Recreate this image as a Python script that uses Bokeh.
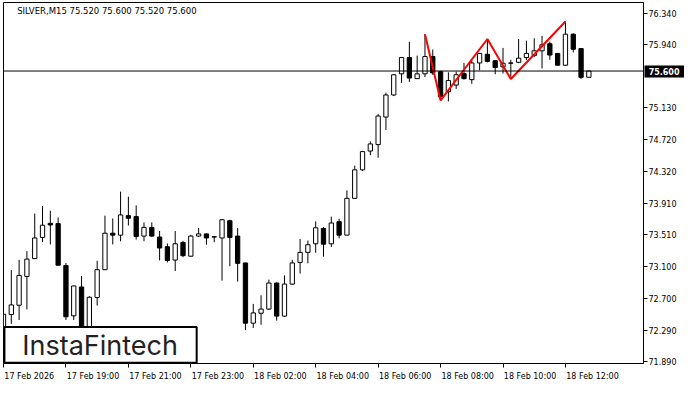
from bokeh.plotting import figure
from bokeh.models import (Range1d, FixedTicker, NumeralTickFormatter, Span, Label,
                          BoxAnnotation, ColumnDataSource, LinearAxis)
from bokeh.embed import file_html
from bokeh.resources import INLINE

# ---------------- data (SILVER, M15) ----------------
opens = [72.300, 72.490, 72.609, 72.977, 73.205, 73.475, 73.655, 73.652, 73.116, 72.474,
         72.842, 72.330, 72.708, 73.063, 73.529, 73.504, 73.753, 73.741, 73.492, 73.603,
         73.480, 73.357, 73.186, 73.410, 73.235, 73.492, 73.520, 73.484, 73.468, 73.688,
         73.492, 73.149, 72.380, 72.507, 72.560, 72.892, 72.470, 72.879, 73.156, 73.284,
         73.394, 73.590, 73.394, 73.676, 73.504, 73.974, 74.338, 74.578, 74.660, 75.012,
         75.294, 75.564, 75.772, 75.503, 75.564, 75.785, 75.592, 75.335, 75.421, 75.568,
         75.490, 75.703, 75.813, 75.731, 75.654, 75.703, 75.711, 75.772, 75.797, 75.858,
         75.948, 75.825, 75.674, 76.070, 75.886, 75.520]
highs = [72.965, 73.058, 73.189, 73.300, 73.778, 73.876, 73.815, 73.729, 73.149, 72.860,
         72.981, 72.724, 73.177, 73.753, 73.717, 74.060, 73.995, 73.884, 73.667, 73.667,
         73.557, 73.398, 73.557, 73.431, 73.508, 73.594, 73.525, 73.492, 73.710, 73.701,
         73.594, 73.150, 72.626, 72.736, 72.936, 72.900, 72.990, 73.189, 73.455, 73.435,
         73.680, 73.606, 73.741, 73.713, 74.076, 74.391, 74.580, 74.701, 75.053, 75.323,
         75.559, 75.780, 75.972, 75.797, 76.070, 75.874, 75.604, 75.584, 75.592, 75.703,
         75.743, 75.830, 76.009, 75.740, 75.895, 75.743, 76.009, 75.988, 76.018, 76.049,
         75.976, 75.830, 76.233, 76.083, 75.890, 75.600]
lows = [72.220, 72.372, 72.421, 72.556, 73.200, 73.414, 73.386, 73.120, 72.421, 72.421,
        72.250, 72.280, 72.605, 73.060, 73.386, 73.426, 73.627, 73.447, 73.426, 73.480,
        73.181, 73.156, 73.046, 73.222, 73.230, 73.484, 73.382, 73.414, 72.923, 73.107,
        72.911, 72.291, 72.319, 72.359, 72.550, 72.413, 72.460, 72.870, 73.014, 73.144,
        73.279, 73.230, 73.353, 73.463, 73.500, 73.970, 74.326, 74.526, 74.493, 74.848,
        75.280, 75.449, 75.461, 75.500, 75.522, 75.550, 75.224, 75.212, 75.372, 75.490,
        75.437, 75.608, 75.711, 75.559, 75.568, 75.498, 75.700, 75.739, 75.780, 75.633,
        75.743, 75.670, 75.665, 75.837, 75.500, 75.520]
closes = [72.494, 72.613, 72.990, 73.198, 73.468, 73.631, 73.634, 73.120, 72.462, 72.855,
          72.300, 72.711, 73.063, 73.529, 73.504, 73.762, 73.720, 73.487, 73.603, 73.492,
          73.340, 73.181, 73.394, 73.242, 73.492, 73.520, 73.468, 73.480, 73.701, 73.475,
          73.144, 72.380, 72.511, 72.560, 72.892, 72.470, 72.879, 73.149, 73.284, 73.382,
          73.598, 73.389, 73.659, 73.504, 73.974, 74.338, 74.571, 74.669, 75.025, 75.294,
          75.552, 75.772, 75.510, 75.564, 75.785, 75.576, 75.273, 75.478, 75.552, 75.503,
          75.703, 75.825, 75.723, 75.645, 75.699, 75.700, 75.764, 75.825, 75.858, 75.935,
          75.804, 75.674, 76.070, 75.878, 75.520, 75.600]

# pattern (red zig-zag): bar index and price of each turning point
pattern_bar = [54, 56, 62, 65, 72]
pattern_price = [76.070, 75.224, 76.009, 75.498, 76.233]

# 75.530 sits under the current-price tag in the original and is not readable there
price_ticks = [76.340, 75.940, 75.130, 74.720, 74.320, 73.910, 73.510,
               73.100, 72.700, 72.290, 71.890]
time_tick_bars = [0, 8, 16, 24, 32, 40, 48, 56, 64, 72]
time_tick_labels = ["17 Feb 2026", "17 Feb 19:00", "17 Feb 21:00", "17 Feb 23:00",
                    "18 Feb 02:00", "18 Feb 04:00", "18 Feb 06:00", "18 Feb 08:00",
                    "18 Feb 10:00", "18 Feb 12:00"]
current_price = 75.600
title_text = "SILVER,M15  75.520 75.600 75.520 75.600"
logo_text = "InstaFintech"

# ---------------- layout ----------------
W, H = 684, 384
BORDER_L, BORDER_R, BORDER_T, BORDER_B = 3, 41, 2, 21
FRAME_W = W - BORDER_L - BORDER_R
Y_MIN, Y_MAX = 71.865, 76.475
X_MIN, X_MAX = 0, 82
FONT = "DejaVu Sans"
FONT_SIZE = "8px"
BAR_PX = FRAME_W / (X_MAX - X_MIN)
TAG_START, TAG_END = 1, 41        # tag box, px right of the frame's right edge
TAG_TEXT_END = 36                 # right end of the tag text, px right of the frame


def ref_x(px):  # reference pixel -> bar units
    return (px - 3) / 8.0


def ref_y(py):  # reference pixel -> price units
    return 76.34 - (py - 13) / 81.57


# approximate DejaVu Sans advance widths (em) for centring left-aligned time labels
_adv = {" ": 0.318, ":": 0.337, "F": 0.575, "e": 0.615, "b": 0.635}


def label_half_bars(t):
    em = sum(_adv.get(ch, 0.636) for ch in t)
    return em * 8 / 2 / BAR_PX + 0.08


idx = list(range(len(opens)))
up = [c > o for o, c in zip(opens, closes)]
src = ColumnDataSource(dict(
    x=idx, o=opens, h=highs, l=lows, c=closes,
    top=[max(o, c) for o, c in zip(opens, closes)],
    bottom=[min(o, c) for o, c in zip(opens, closes)],
    fill=["white" if u else "black" for u in up],
))

p = figure(width=W, height=H, output_backend="svg", toolbar_location=None,
           x_range=Range1d(X_MIN, X_MAX), y_range=Range1d(Y_MIN, Y_MAX),
           y_axis_location="right", x_axis_location="below")
p.min_border_left = BORDER_L
p.min_border_right = BORDER_R
p.min_border_top = BORDER_T
p.min_border_bottom = BORDER_B
p.background_fill_color = "white"
p.border_fill_color = "white"
p.outline_line_color = "black"
p.outline_line_width = 1
p.grid.visible = False

# candles
p.segment(x0="x", y0="l", x1="x", y1="h", source=src, line_color="black", line_width=1)
p.vbar(x="x", top="top", bottom="bottom", width=0.55, source=src,
       fill_color="fill", line_color="black", line_width=1)

# pattern line
p.line(pattern_bar, pattern_price, line_color="#ff0000", line_width=2)

# current price line
p.add_layout(Span(location=current_price, dimension="width", line_color="black", line_width=1))

# y axis (right)
ya = p.yaxis[0]
ya.ticker = FixedTicker(ticks=price_ticks, minor_ticks=[])
ya.formatter = NumeralTickFormatter(format="0.000")
ya.major_label_text_font = FONT
ya.major_label_text_font_size = FONT_SIZE
ya.major_label_text_color = "black"
ya.major_tick_out = 4
ya.major_tick_in = 0
ya.minor_tick_out = 0
ya.minor_tick_in = 0
ya.major_label_standoff = 1
ya.axis_line_color = "black"

# current-price tag: a y axis on the left whose thick minor tick and white label are
# reached across the frame to the right-hand side (its own panel size stays negative)
tag_axis = LinearAxis(ticker=FixedTicker(ticks=[current_price], minor_ticks=[current_price]),
                      formatter=NumeralTickFormatter(format="0.000"))
tag_axis.major_label_text_font = FONT
tag_axis.major_label_text_font_size = FONT_SIZE
tag_axis.major_label_text_color = "white"
tag_axis.major_label_text_font_style = "bold"
tag_axis.major_tick_out = 0
tag_axis.major_tick_in = 0
tag_axis.major_tick_line_color = None
tag_axis.minor_tick_out = -(FRAME_W + TAG_START)
tag_axis.minor_tick_in = FRAME_W + TAG_END
tag_axis.minor_tick_line_width = 12
tag_axis.minor_tick_line_color = "black"
tag_axis.axis_line_color = None
tag_axis.major_label_standoff = -(FRAME_W + TAG_TEXT_END)
p.add_layout(tag_axis, "left")

# x axis (below): minor ticks mark the times, labels centred so they start at the tick
centers = [round(b + label_half_bars(t), 3) for b, t in zip(time_tick_bars, time_tick_labels)]
xa = p.xaxis[0]
xa.ticker = FixedTicker(ticks=centers, minor_ticks=time_tick_bars)
xa.major_label_overrides = {c: t for c, t in zip(centers, time_tick_labels)}
xa.major_tick_out = 0
xa.major_tick_in = 0
xa.major_tick_line_color = None
xa.minor_tick_out = 4
xa.minor_tick_in = 0
xa.minor_tick_line_color = "black"
xa.major_label_text_font = FONT
xa.major_label_text_font_size = FONT_SIZE
xa.major_label_text_color = "black"
xa.major_label_standoff = 4
xa.axis_line_color = "black"

# title
p.add_layout(Label(x=ref_x(17), y=ref_y(11), text=title_text, text_font=FONT,
                   text_font_size="8.5px", text_color="black",
                   text_align="left", text_baseline="middle"))

# logo box
p.add_layout(BoxAnnotation(left=0.12, right=ref_x(201), bottom=ref_y(378) + 0.01, top=ref_y(340),
                           fill_color="white", fill_alpha=1.0,
                           line_color="black", line_width=2, line_alpha=1.0))
p.add_layout(Label(x=ref_x(102), y=ref_y(359), text=logo_text, text_font="Inter",
                   text_font_size="27px", text_color="#222222",
                   text_align="center", text_baseline="middle"))

open("out.html", "w").write(file_html(p, INLINE))
